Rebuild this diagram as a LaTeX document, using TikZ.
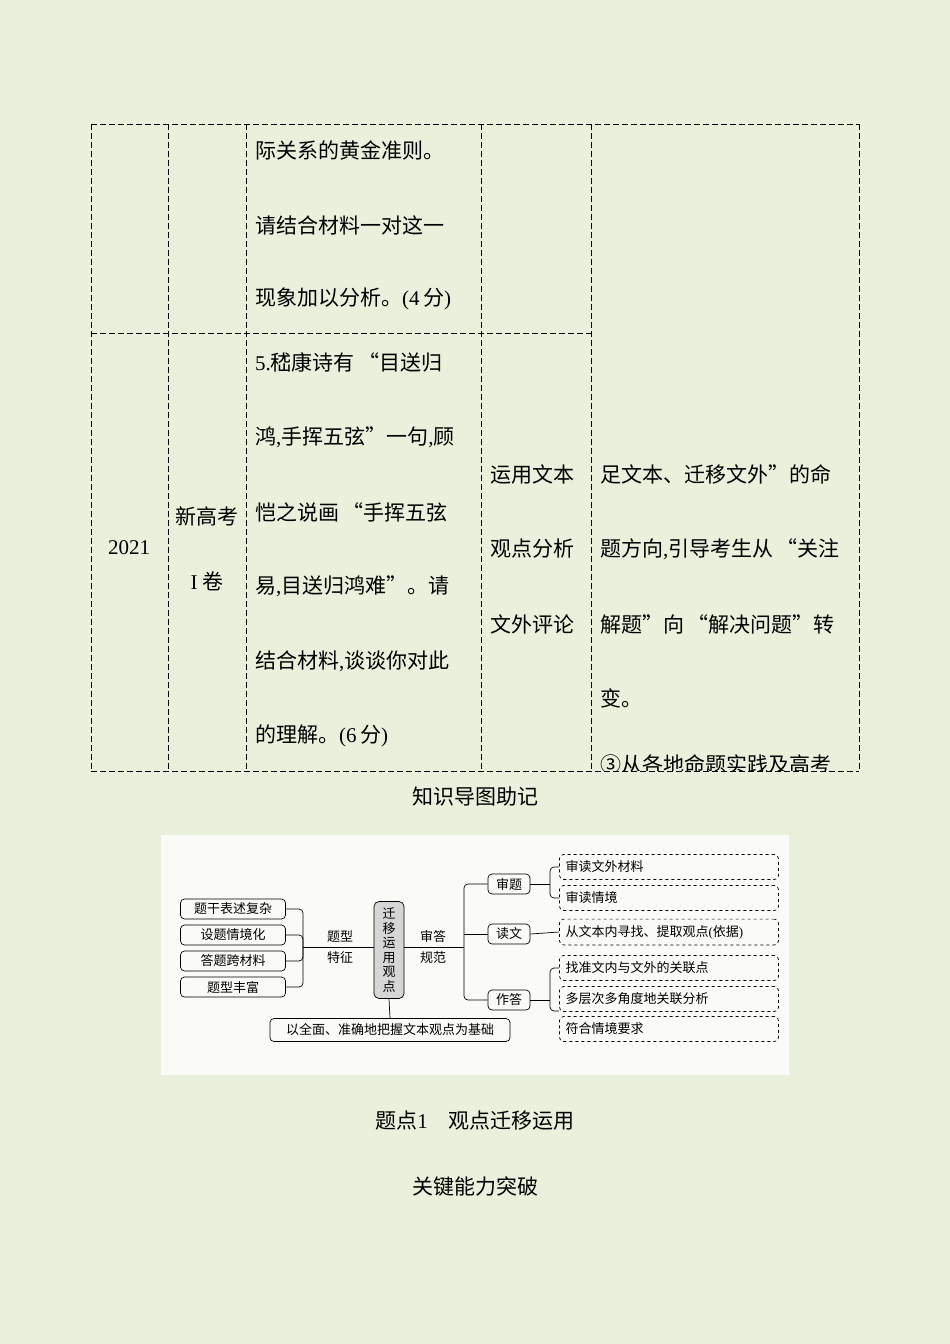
\documentclass[tikz,border=0pt]{standalone}
\usepackage{fontspec}
\setmainfont{Liberation Serif}
\newfontfamily\cjk{Noto Sans CJK SC}
\usetikzlibrary{positioning}
\definecolor{pagebg}{HTML}{E9F0DC}
\definecolor{mapbg}{HTML}{FAFBF6}
\definecolor{hubgray}{HTML}{D6D6D6}
\tikzset{
  grid/.style={dash pattern=on 6pt off 3pt, line width=0.8pt},
  cell/.style={anchor=west, inner sep=0pt, font=\cjk\fontsize{21}{21}\selectfont},
  title/.style={inner sep=0pt, font=\cjk\fontsize{21}{21}\selectfont},
  leftbox/.style={draw, rounded corners=4pt, minimum width=105pt, minimum height=20pt, inner sep=0pt, line width=0.7pt, font=\cjk\fontsize{13}{13}\selectfont},
  leaf/.style={draw, dashed, rounded corners=4pt, minimum width=219pt, minimum height=25pt, inner sep=6pt, text width=207pt, line width=0.7pt, font=\cjk\fontsize{13}{13}\selectfont},
  subbox/.style={draw, rounded corners=4pt, minimum width=42pt, minimum height=20pt, inner sep=0pt, line width=0.7pt, font=\cjk\fontsize{13}{13}\selectfont},
  maplabel/.style={inner sep=0pt, font=\cjk\fontsize{13}{13}\selectfont},
  link/.style={line width=0.7pt, rounded corners=4pt}
}
\begin{document}
\begin{tikzpicture}[x=1pt,y=-1pt]
  \fill[pagebg] (0,0) rectangle (950,1344);
  \useasboundingbox (0,0) rectangle (950,1344);

  % table grid
  \draw[grid] (91,124) -- (859,124);
  \draw[grid] (91,333) -- (591,333);
  \draw[grid] (91,771) -- (859,771);
  \foreach \x in {91,168,246,481,591,859}
    \draw[grid] (\x,124) -- (\x,771);

  % row 1
  \node[cell] (r1a) at (255,150) {际关系的黄金准则。};
  \node[cell] (r1b) at (255,225) {请结合材料一对这一};
  \node[cell] (r1c) at (255,299) {现象加以分析。{\rmfamily(4}\,分{\rmfamily)}};

  % row 2
  \node[title] (year) at (129,548) {\rmfamily 2021};
  \node[title] (papa) at (207,516) {新高考};
  \node[title] (papb) at (207,581) {{\rmfamily I}\ 卷};
  \node[cell] (q1) at (255,362) {{\rmfamily 5.}嵇康诗有\,“目送归};
  \node[cell] (q2) at (255,437) {鸿{\rmfamily,}手挥五弦”一句{\rmfamily,}顾};
  \node[cell] (q3) at (255,512) {恺之说画\,“手挥五弦};
  \node[cell] (q4) at (255,586) {易{\rmfamily,}目送归鸿难”。请};
  \node[cell] (q5) at (255,661) {结合材料{\rmfamily,}谈谈你对此};
  \node[cell] (q6) at (255,736) {的理解。{\rmfamily(6}\,分{\rmfamily)}};
  \node[cell] (k1) at (490,474) {运用文本};
  \node[cell] (k2) at (490,549) {观点分析};
  \node[cell] (k3) at (490,624) {文外评论};
  \begin{scope}
    \clip (592,124) rectangle (858,770);
    \node[cell] (n1) at (600,474) {足文本、迁移文外”的命};
    \node[cell] (n2) at (600,549) {题方向{\rmfamily,}引导考生从\,“关注};
    \node[cell] (n3) at (600,624) {解题”向\,“解决问题”转};
    \node[cell] (n4) at (600,698) {变。};
    \node[cell] (n5) at (600,764) {③从各地命题实践及高考};
  \end{scope}

  \node[title] (head) at (475,797) {知识导图助记};

  % mind map
  \fill[mapbg] (161,835) rectangle (789,1075);
  \node[leftbox] (f1) at (233,909) {题干表述复杂};
  \node[leftbox] (f2) at (233,935) {设题情境化};
  \node[leftbox] (f3) at (233,961) {答题跨材料};
  \node[leftbox] (f4) at (233,987) {题型丰富};
  \node[draw, fill=hubgray, rounded corners=5pt, minimum width=30pt, minimum height=97pt, inner sep=0pt, line width=0.7pt, align=center, font=\cjk\fontsize{13}{14.5}\selectfont] (hub) at (389,950) {迁\\移\\运\\用\\观\\点};
  \coordinate (lj) at (303,947);
  \draw[link] (f1.east) -| (lj) |- (f4.east);
  \draw[link] (f2.east) -| (lj);
  \draw[link] (f3.east) -| (lj);
  \draw[link] (lj) -- (hub.west |- lj);
  \node[maplabel] (ta) at (340,937) {题型};
  \node[maplabel] (tb) at (340,958) {特征};
  \node[maplabel] (sa) at (433,937) {审答};
  \node[maplabel] (sb) at (433,958) {规范};

  \node[subbox] (b1) at (509,884) {审题};
  \node[subbox] (b2) at (509,934) {读文};
  \node[subbox] (b3) at (509,1000) {作答};
  \coordinate (rj) at (464,947);
  \draw[link] (hub.east |- rj) -- (rj);
  \draw[link] (b1.west) -| (rj) |- (b3.west);
  \draw[link] (rj |- b2) -- (b2.west);

  \node[leaf] (l1) at (669,867) {审读文外材料};
  \node[leaf] (l2) at (669,898) {审读情境};
  \node[leaf] (l3) at (669,932) {从文本内寻找、提取观点{\rmfamily(}依据{\rmfamily)}};
  \node[leaf] (l4) at (669,968) {找准文内与文外的关联点};
  \node[leaf] (l5) at (669,999) {多层次多角度地关联分析};
  \node[leaf] (l6) at (669,1029) {符合情境要求};
  \coordinate (aj) at (550,884);
  \draw[link] (b1.east) -- (aj);
  \draw[link] (l1.west) -| (aj) |- (l2.west);
  \draw[link] (b2.east) -- (l3.west);
  \coordinate (cj) at (550,1000);
  \draw[link] (b3.east) -- (cj);
  \draw[link] (l4.west) -| (cj) |- ([yshift=-12pt]l5.west);

  \node[draw, rounded corners=4pt, minimum width=240pt, minimum height=23pt, inner sep=0pt, line width=0.7pt, font=\cjk\fontsize{13}{13}\selectfont] (base) at (390,1030) {以全面、准确地把握文本观点为基础};
  \draw[link] (hub.south) -- (base.north);

  \node[title] (sec) at (475,1121) {题点{\rmfamily 1}\quad 观点迁移运用};
  \node[title] (key) at (475,1186) {关键能力突破};
\end{tikzpicture}
\end{document}
